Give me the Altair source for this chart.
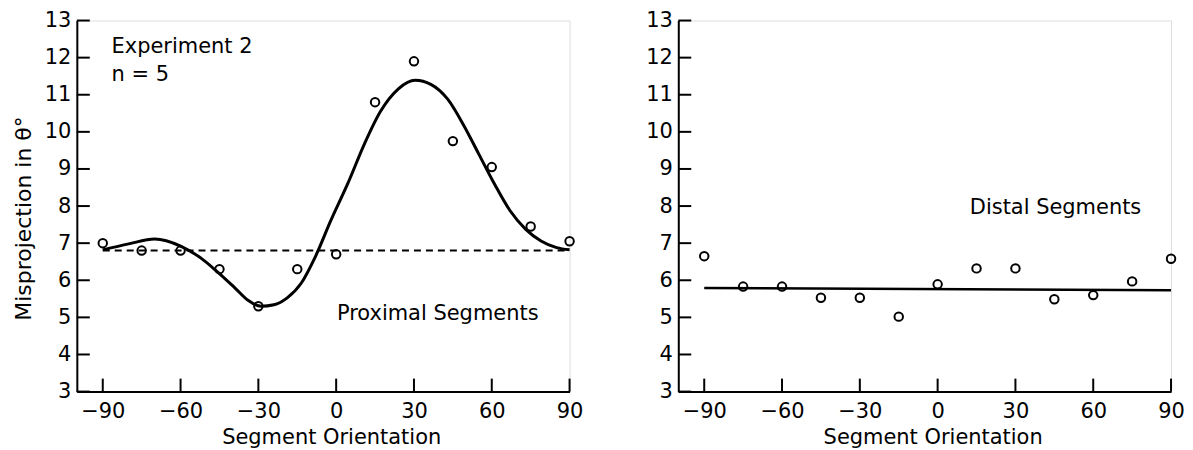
import altair as alt
import pandas as pd

# ---- data ----
orient = [-90, -75, -60, -45, -30, -15, 0, 15, 30, 45, 60, 75, 90]
proximal = [7.0, 6.8, 6.8, 6.3, 5.3, 6.3, 6.7, 10.8, 11.9, 9.75, 9.05, 7.45, 7.05]
distal = [6.65, 5.83, 5.83, 5.53, 5.53, 5.02, 5.89, 6.32, 6.32, 5.49, 5.6, 5.97, 6.58]

# fitted curve (proximal)
curve_x = [-90, -80, -70, -60, -52, -46, -39, -34, -29, -24, -19, -13.5, -8, -2,
           4.5, 11, 17, 24, 30.5, 36.5, 43, 49, 55, 61, 67, 73, 79, 85, 90]
curve_y = [6.82, 6.98, 7.11, 6.92, 6.59, 6.24, 5.79, 5.46, 5.30, 5.34, 5.52, 5.92,
           6.64, 7.62, 8.61, 9.69, 10.54, 11.16, 11.39, 11.28, 10.88, 10.2, 9.4,
           8.6, 7.88, 7.38, 7.06, 6.88, 6.82]

# reference (dashed) line, proximal panel
dash_x = [-90, 90]
dash_y = [6.8, 6.8]

# fitted line, distal panel
dline_x = [-90, 90]
dline_y = [5.79, 5.73]

x_ticks = [-90, -60, -30, 0, 30, 60, 90]
y_ticks = [3, 4, 5, 6, 7, 8, 9, 10, 11, 12, 13]

left_notes_text = ["Experiment 2", "n = 5", "Proximal Segments"]
left_notes_x = [-86.6, -86.6, 0.3]
left_notes_y = [12.29, 11.52, 5.09]

right_notes_text = ["Distal Segments"]
right_notes_x = [12.4]
right_notes_y = [7.94]

# ---- styling ----
W, H = 494, 372
FONT = "DejaVu Sans"
TICK_LEN = 13

xscale = alt.Scale(domain=[-100, 90], nice=False, zero=False)
yscale = alt.Scale(domain=[3, 13], nice=False, zero=False)


def x_axis():
    return alt.Axis(values=x_ticks, ticks=False, grid=False, domainColor="black",
                    domainWidth=2, labelFontSize=21, labelPadding=9,
                    labelColor="black", labelOverlap=False, labelFlush=False,
                    title="Segment Orientation",
                    titleFontSize=21, titleFontWeight="normal", titleColor="black",
                    titlePadding=5, titleX=255, labelFont=FONT, titleFont=FONT)


def y_axis(title):
    kw = dict(values=y_ticks, ticks=False, grid=False, domainColor="black",
              domainWidth=2, labelFontSize=21, labelPadding=6, labelColor="black",
              labelOverlap=False, labelFlush=False, labelFont=FONT, titleFont=FONT)
    if title:
        kw.update(title=title, titleFontSize=22, titleFontWeight="normal",
                  titleColor="black", titleX=-41, titleY=198)
    else:
        kw.update(title="")
    return alt.Axis(**kw)


def panel(points, lines, notes, ytitle):
    XA = x_axis()
    YA = y_axis(ytitle)

    def X(field):
        return alt.X(field, scale=xscale, axis=XA)

    def Y(field):
        return alt.Y(field, scale=yscale, axis=YA)

    pts = pd.DataFrame({"x": orient, "y": points})
    xt = pd.DataFrame({"t": x_ticks})
    yt = pd.DataFrame({"v": y_ticks})

    base_pts = alt.Chart(pts).mark_point(
        shape="circle", filled=False, size=72, strokeWidth=2,
        color="black", opacity=1
    ).encode(x=X("x:Q"), y=Y("y:Q"))

    xtick = alt.Chart(xt).mark_rule(color="black", strokeWidth=2).encode(
        x=X("t:Q"), y=alt.value(H), y2=alt.value(H - TICK_LEN))
    ytick = alt.Chart(yt).mark_rule(color="black", strokeWidth=2).encode(
        y=Y("v:Q"), x=alt.value(0), x2=alt.value(TICK_LEN))

    line_layers = []
    for df, kw in lines:
        line_layers.append(alt.Chart(df).mark_line(color="black", **kw).encode(
            x=X("x:Q"), y=Y("y:Q")))

    nd = pd.DataFrame({"t": notes[0], "x": notes[1], "y": notes[2]})
    txt = alt.Chart(nd).mark_text(
        align="left", baseline="middle", fontSize=21, font=FONT, color="black"
    ).encode(x=X("x:Q"), y=Y("y:Q"), text="t:N")

    layers = [base_pts, xtick, ytick] + line_layers + [txt]
    return alt.layer(*layers).properties(width=W, height=H)


curve_df = pd.DataFrame({"x": curve_x, "y": curve_y})
dash_df = pd.DataFrame({"x": dash_x, "y": dash_y})
dl_df = pd.DataFrame({"x": dline_x, "y": dline_y})

left = panel(
    proximal,
    [(dash_df, dict(strokeWidth=2, strokeDash=[7, 5])),
     (curve_df, dict(strokeWidth=3, interpolate="monotone"))],
    (left_notes_text, left_notes_x, left_notes_y),
    "Misprojection in θ°")
right = panel(
    distal,
    [(dl_df, dict(strokeWidth=2.5))],
    (right_notes_text, right_notes_x, right_notes_y), None)

chart = alt.hconcat(left, right, spacing=109).properties(
    bounds="flush", padding={"left": 4, "top": 0, "right": 0, "bottom": 0}
).configure_view(stroke=None).configure(font=FONT)

chart.save("out.html", embed_options={"renderer": "svg", "actions": False})
